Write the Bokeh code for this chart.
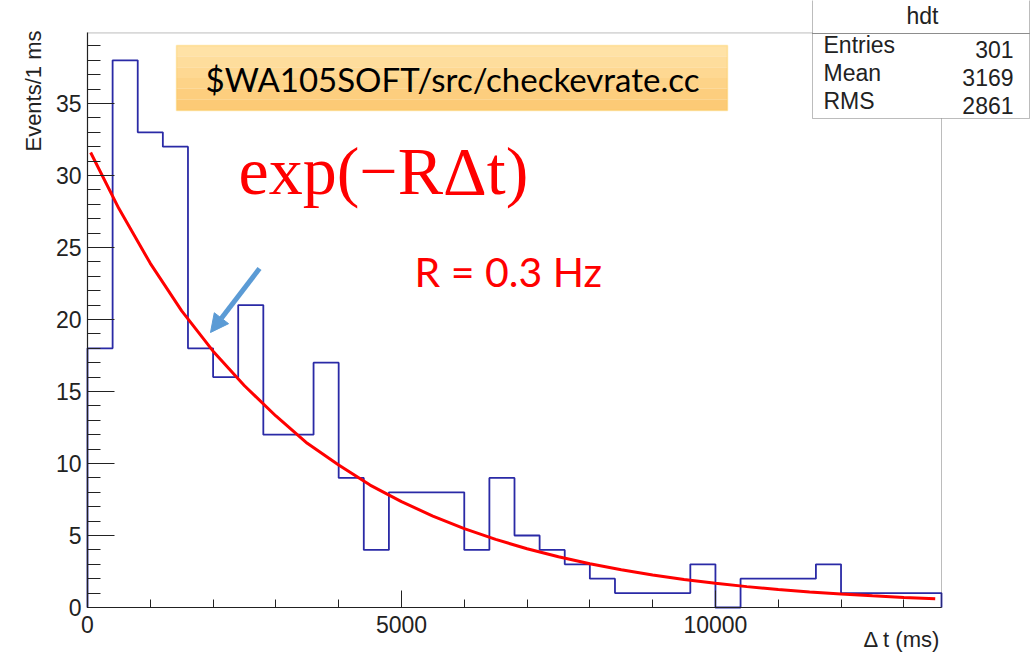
import numpy as np
from bokeh.plotting import figure
from bokeh.models import (Range1d, SingleIntervalTicker, Label, BoxAnnotation,
                          Arrow, NormalHead)
from bokeh.embed import file_html
from bokeh.resources import INLINE

# ---- data ----
bin_width = 400  # ms
counts = [18, 38, 33, 32, 18, 16, 21, 12, 12, 17, 9, 4, 8, 8, 8, 4, 9, 5, 4, 3,
          2, 1, 1, 1, 3, 0, 2, 2, 2, 3, 1, 1, 1, 1]
fit_t = [50, 500, 1000, 1500, 2000, 2500, 3000, 3500, 4000, 4500, 5000, 5500,
         6000, 6500, 7000, 7500, 8000, 8500, 9000, 9500, 10000, 10500, 11000,
         11500, 12000, 12500, 13000, 13500]
fit_y = [31.6, 27.7, 23.9, 20.6, 17.8, 15.4, 13.3, 11.4, 9.9, 8.5, 7.35, 6.35,
         5.48, 4.73, 4.08, 3.52, 3.04, 2.62, 2.26, 1.95, 1.68, 1.45, 1.25,
         1.08, 0.93, 0.81, 0.70, 0.60]
stats_names = ["Entries", "Mean", "RMS"]
stats_values = ["301", "3169", "2861"]
hist_name = "hdt"
x_lo, x_hi = 0, 13600
y_lo, y_hi = 0, 39.9

# step outline of the histogram
edges = [i * bin_width for i in range(len(counts) + 1)]
sx, sy = [edges[0]], [0]
for i, c in enumerate(counts):
    sx += [edges[i], edges[i + 1]]
    sy += [c, c]
sx.append(edges[-1]); sy.append(0)

# pixel -> data helpers for placing decorations (frame 87..941 x 607 = 0)
KX = 854 / 13600
KY = 576 / 40

def X(px):
    return (px - 87) / KX

def Y(py):
    return (607 - py) / KY

p = figure(width=1030, height=656, output_backend="svg", toolbar_location=None,
           x_range=Range1d(X(0), X(1030)), y_range=Range1d(Y(656), Y(0)),
           min_border=0, min_border_left=0, min_border_right=0,
           min_border_top=0, min_border_bottom=0)
p.title.visible = False
p.grid.visible = False
p.outline_line_color = None
p.background_fill_color = "white"
p.border_fill_color = "white"

p.xaxis.ticker = SingleIntervalTicker(interval=5000, num_minor_ticks=5)
p.yaxis.ticker = SingleIntervalTicker(interval=5, num_minor_ticks=5)
p.xaxis.fixed_location = 0
p.yaxis.fixed_location = 0
p.xaxis.bounds = (x_lo, x_hi)
p.yaxis.bounds = (y_lo, y_hi)
for ax in (p.xaxis[0], p.yaxis[0]):
    ax.major_tick_out = 0
    ax.minor_tick_out = 0
    ax.axis_line_color = "#222222"
    ax.axis_line_width = 1.2
    ax.major_tick_line_color = "#222222"
    ax.minor_tick_line_color = "#222222"
    ax.major_label_text_font = "Liberation Sans"
    ax.major_label_text_font_size = "23px"
    ax.major_label_text_color = "#222222"
p.xaxis.major_tick_in = 17
p.xaxis.minor_tick_in = 8
p.xaxis.major_label_standoff = 8
p.yaxis.major_tick_in = 27
p.yaxis.minor_tick_in = 13
p.yaxis.major_label_standoff = 6

# frame
p.add_layout(BoxAnnotation(left=x_lo, right=x_hi, bottom=y_lo, top=y_hi,
                           fill_alpha=0, line_color="#222222", line_width=1))

p.line(sx, sy, line_color="#2a2aa6", line_width=1.8)
p.line(fit_t, fit_y, line_color="#ff0000", line_width=3)

# axis titles
p.add_layout(Label(x=X(940), y=Y(651), text="\u0394 t (ms)", text_align="right",
                   text_font="Liberation Sans", text_font_size="22px",
                   text_color="#222222"))
p.add_layout(Label(x=X(33), y=Y(30), text="Events/1 ms", angle=np.pi / 2,
                   text_align="right", text_baseline="alphabetic",
                   text_font="Liberation Sans", text_font_size="22px",
                   text_color="#222222"))

# orange banner (vertical shading in strips)
strip_cols = ["#ffe2a6", "#fedd9c", "#fed892", "#fdd388", "#fdce7e", "#fcca76"]
top_px, bot_px = 45, 110
n = len(strip_cols)
for i, c in enumerate(strip_cols):
    t = top_px + (bot_px - top_px) * i / n
    b = top_px + (bot_px - top_px) * (i + 1) / n
    p.add_layout(BoxAnnotation(left=X(176), right=X(727), top=Y(t), bottom=Y(b),
                               fill_color=c, fill_alpha=1.0, line_color=None))
p.add_layout(BoxAnnotation(left=X(176), right=X(727), top=Y(top_px),
                           bottom=Y(bot_px), fill_alpha=0,
                           line_color="#fcc22e", line_width=1.5))
p.add_layout(Label(x=X(452), y=Y(78), text="$WA105SOFT/src/checkevrate.cc",
                   text_align="center", text_baseline="middle",
                   text_font="Lato", text_font_size="33px", text_color="black"))

# formula texts
p.add_layout(Label(x=X(238), y=Y(208), text="exp(\u2212R\u0394t)",
                   text_font="Liberation Serif", text_font_size="68px",
                   text_color="#ff0000"))
p.add_layout(Label(x=X(414), y=Y(295), text="R = 0.3 Hz",
                   text_font="Lato", text_font_size="41px", text_color="#ff0000"))

# arrow
p.add_layout(Arrow(x_start=X(259), y_start=Y(268), x_end=X(210), y_end=Y(332),
                   line_color="#5b9bd5", line_width=5,
                   end=NormalHead(size=18, fill_color="#5b9bd5",
                                  line_color="#5b9bd5")))

# stats box
p.add_layout(BoxAnnotation(left=X(812), right=X(1029), top=Y(-1), bottom=Y(118),
                           fill_color="white", fill_alpha=1.0,
                           line_color="#222222", line_width=1))
p.add_layout(BoxAnnotation(left=X(812), right=X(1029), top=Y(33), bottom=Y(33),
                           fill_alpha=0, line_color="#222222", line_width=1))
p.add_layout(Label(x=X(922), y=Y(28), text=hist_name, text_align="center",
                   text_font="Liberation Sans", text_font_size="23px",
                   text_color="#222222"))
for i, (nm, v) in enumerate(zip(stats_names, stats_values)):
    by = 57 + i * 28
    p.add_layout(Label(x=X(823), y=Y(by), text=nm, text_font="Liberation Sans",
                       text_font_size="23px", text_color="#222222"))
    p.add_layout(Label(x=X(1013), y=Y(by), text=v, text_align="right",
                       text_font="Liberation Sans", text_font_size="23px",
                       text_color="#222222"))

open("out.html", "w").write(file_html(p, INLINE))
